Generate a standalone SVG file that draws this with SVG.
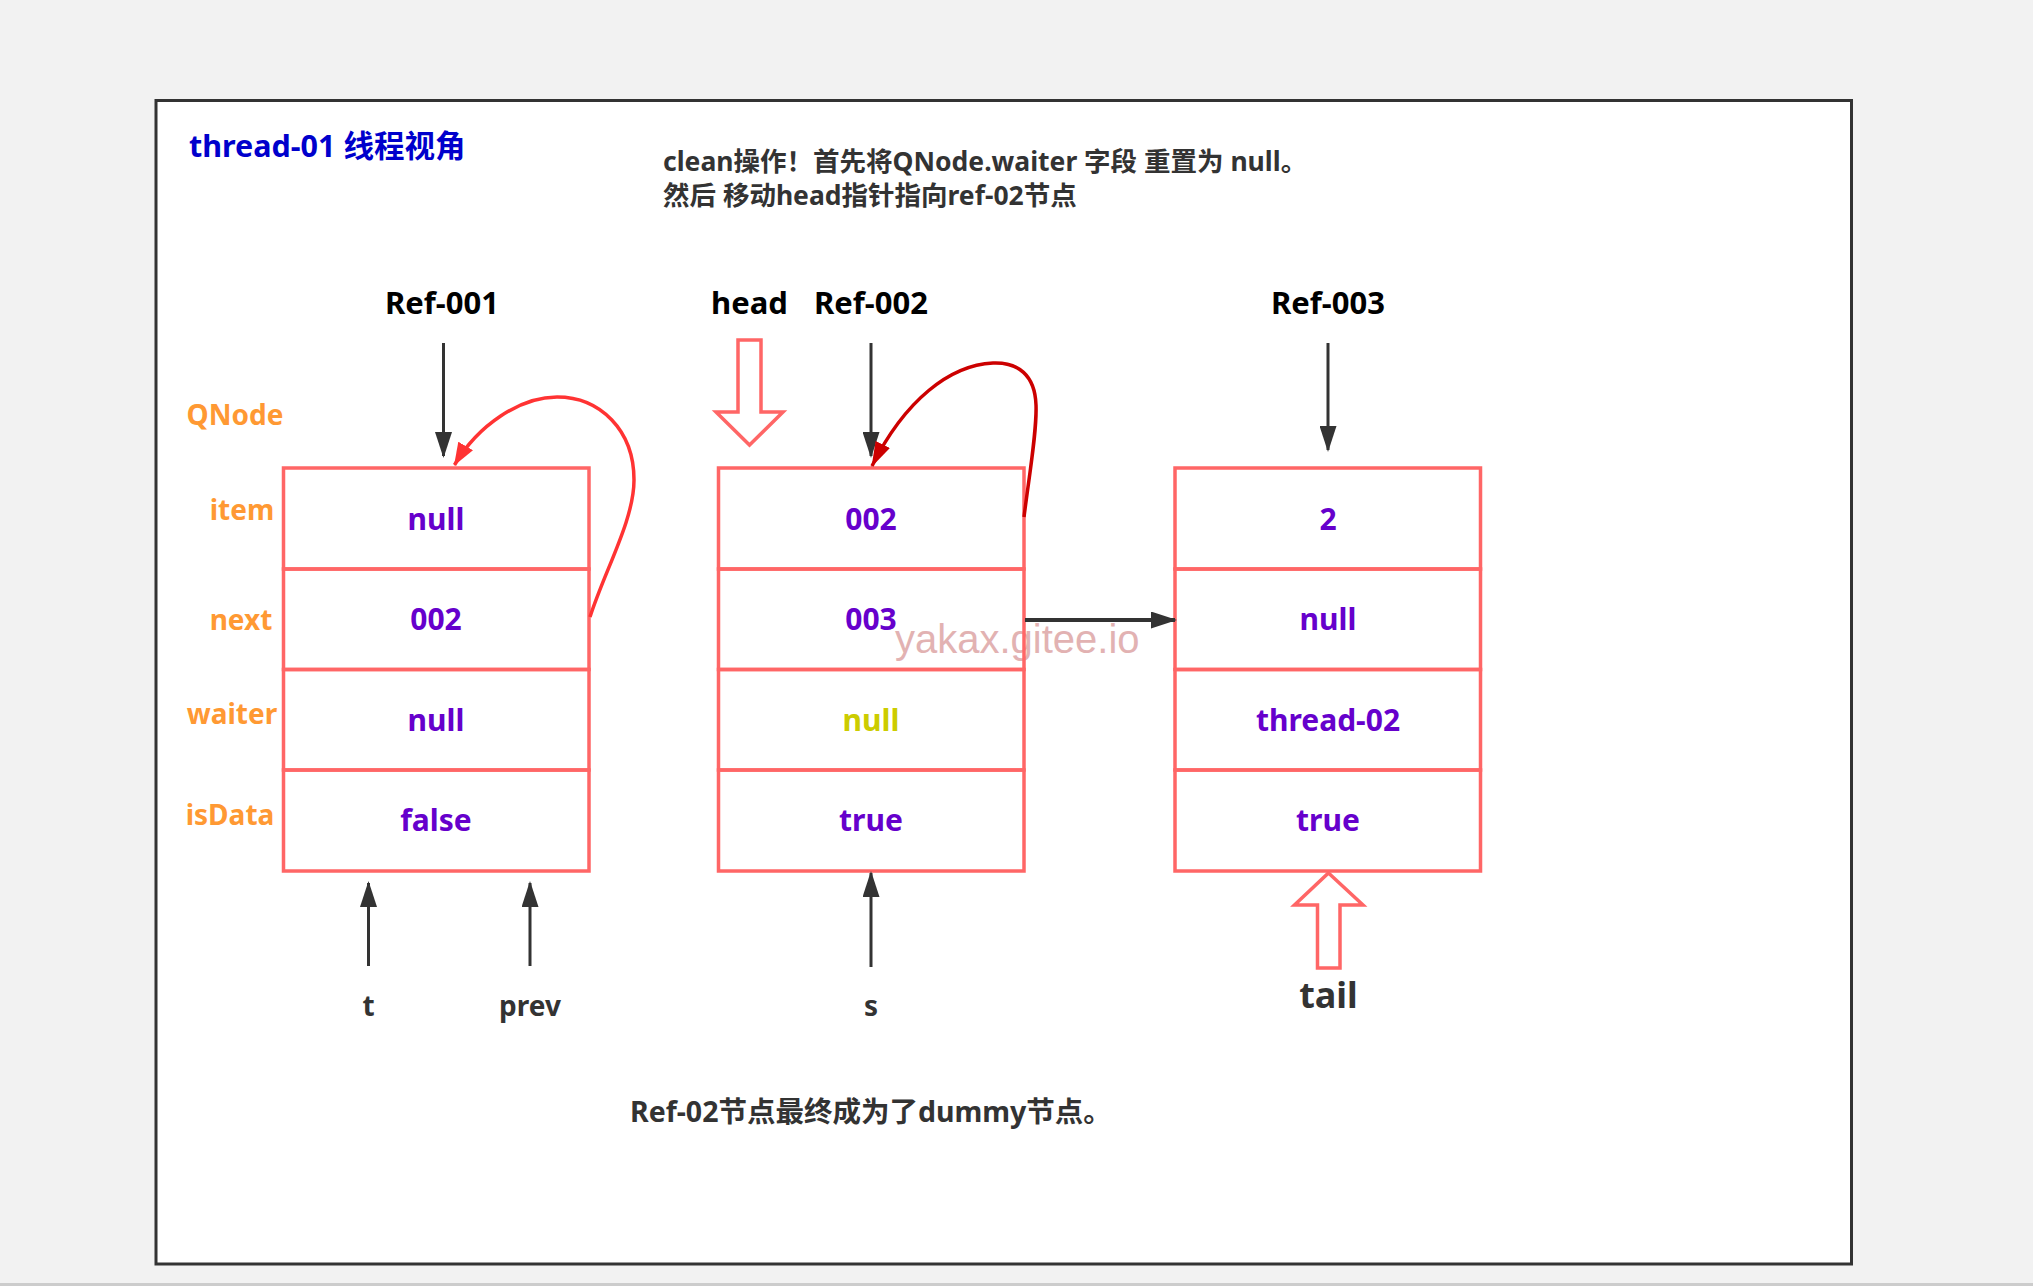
<svg xmlns="http://www.w3.org/2000/svg" width="2033" height="1286" viewBox="0 0 2033 1286">
<style>
.t{font-family:"Noto Sans","Noto Sans CJK SC",sans-serif;font-weight:bold}
.cell{fill:none;stroke:#ff6666;stroke-width:3.5}
.val{font-size:30px;fill:#6600cc;text-anchor:middle}
.lbl{font-size:28px;fill:#ff9933;text-anchor:middle}
.ref{font-size:31px;fill:#000000;text-anchor:middle}
.ptr{font-size:28px;fill:#333333;text-anchor:middle}
.note{font-size:26.5px;fill:#333333}
.dark{fill:none;stroke:#333333;stroke-width:3}
.hollow{fill:#ffffff;stroke:#ff6666;stroke-width:3.5;stroke-linejoin:miter}
</style>
<defs>
<marker id="ahDark" markerUnits="userSpaceOnUse" markerWidth="26" markerHeight="17" viewBox="0 0 26 17" refX="24" refY="8.5" orient="auto">
<path d="M0,0 L26,8.5 L0,17 Z" fill="#333333"/>
</marker>
<marker id="ahRed" markerUnits="userSpaceOnUse" markerWidth="23" markerHeight="17" viewBox="0 0 23 17" refX="22" refY="8.5" orient="auto">
<path d="M0,0 L23,8.5 L0,17 Z" fill="#ff3333"/>
</marker>
<marker id="ahDeepRed" markerUnits="userSpaceOnUse" markerWidth="25" markerHeight="16" viewBox="0 0 25 16" refX="24" refY="8" orient="auto">
<path d="M0,0 L25,8 L0,16 Z" fill="#cc0000"/>
</marker>
</defs>
<rect x="0" y="0" width="2033" height="1286" fill="#f2f2f2"/>
<rect x="0" y="1283" width="2033" height="3" fill="#cccccc"/>
<rect id="frame" x="156" y="100.5" width="1695.5" height="1163.5" fill="#ffffff" stroke="#333333" stroke-width="3"/>

<g id="title">
<text class="t" x="189" y="157" font-size="30.5" fill="#0000cc">thread-01 线程视角</text>
</g>
<g id="note-top">
<text class="t note" x="663" y="171">clean操作！首先将QNode.waiter 字段 重置为 null。</text>
<text class="t note" x="663" y="205">然后 移动head指针指向ref-02节点</text>
</g>
<g id="note-bottom">
<text class="t" x="630" y="1122" font-size="28.5" fill="#333333">Ref-02节点最终成为了dummy节点。</text>
</g>

<g id="field-labels">
<text class="t lbl" x="235" y="425">QNode</text>
<text class="t lbl" x="242" y="520">item</text>
<text class="t lbl" x="241" y="630">next</text>
<text class="t lbl" x="232" y="724">waiter</text>
<text class="t lbl" x="230" y="825">isData</text>
</g>

<g id="ref-labels">
<text class="t ref" x="442" y="314">Ref-001</text>
<text class="t ref" x="749.5" y="314">head</text>
<text class="t ref" x="871" y="314">Ref-002</text>
<text class="t ref" x="1328" y="314">Ref-003</text>
</g>

<g id="watermark">
<text x="895" y="653" font-family="'Liberation Sans',Arial,sans-serif" font-size="40" fill="#e2b2b2">yakax.gitee.io</text>
</g>

<g id="node-ref-001">
<rect class="cell" x="283.5" y="468" width="305.5" height="101"/>
<rect class="cell" x="283.5" y="569" width="305.5" height="100.5"/>
<rect class="cell" x="283.5" y="669.5" width="305.5" height="100.5"/>
<rect class="cell" x="283.5" y="770" width="305.5" height="101"/>
<text class="t val" x="436" y="530">null</text>
<text class="t val" x="436" y="630">002</text>
<text class="t val" x="436" y="731">null</text>
<text class="t val" x="436" y="831">false</text>
</g>

<g id="node-ref-002">
<rect class="cell" x="718.5" y="468" width="305.5" height="101"/>
<rect class="cell" x="718.5" y="569" width="305.5" height="100.5"/>
<rect class="cell" x="718.5" y="669.5" width="305.5" height="100.5"/>
<rect class="cell" x="718.5" y="770" width="305.5" height="101"/>
<text class="t val" x="871" y="530">002</text>
<text class="t val" x="871" y="630">003</text>
<text class="t val" x="871" y="731" style="fill:#cccc00">null</text>
<text class="t val" x="871" y="831">true</text>
</g>

<g id="node-ref-003">
<rect class="cell" x="1175" y="468" width="305.5" height="101"/>
<rect class="cell" x="1175" y="569" width="305.5" height="100.5"/>
<rect class="cell" x="1175" y="669.5" width="305.5" height="100.5"/>
<rect class="cell" x="1175" y="770" width="305.5" height="101"/>
<text class="t val" x="1328" y="530">2</text>
<text class="t val" x="1328" y="630">null</text>
<text class="t val" x="1328" y="731">thread-02</text>
<text class="t val" x="1328" y="831">true</text>
</g>

<g id="pointer-labels">
<text class="t ptr" x="368.5" y="1016">t</text>
<text class="t ptr" x="530" y="1016">prev</text>
<text class="t ptr" x="871" y="1016">s</text>
<text class="t ptr" x="1328.5" y="1008" style="font-size:36px">tail</text>
</g>

<g id="connectors">
<path class="dark" d="M443.5,343 L443.5,456" marker-end="url(#ahDark)"/>
<path class="dark" d="M871,343 L871,456" marker-end="url(#ahDark)"/>
<path class="dark" d="M1328,343 L1328,450" marker-end="url(#ahDark)"/>
<path class="dark" d="M368.5,966 L368.5,883" marker-end="url(#ahDark)"/>
<path class="dark" d="M530,966 L530,883" marker-end="url(#ahDark)"/>
<path class="dark" d="M871,967 L871,873" marker-end="url(#ahDark)"/>
<path class="dark" style="stroke-width:4" d="M1025,620 L1175,620" marker-end="url(#ahDark)"/>
<path d="M590,617 C605,570 634,520 634,480 C634,430 600,397 557,397 C520,397 478,425 454.5,465" fill="none" stroke="#ff3333" stroke-width="3.5" marker-end="url(#ahRed)"/>
<path d="M1024,517 C1030,470 1037,430 1036,405 C1035,375 1018,362 993,363 C950,365 905,400 872,466" fill="none" stroke="#cc0000" stroke-width="3.5" marker-end="url(#ahDeepRed)"/>
<polygon id="head-arrow" class="hollow" points="738,340 761,340 761,412 783,412 749.5,445 716,412 738,412"/>
<polygon id="tail-arrow" class="hollow" points="1328.5,873 1363,905 1340,905 1340,968 1317.5,968 1317.5,905 1294.5,905"/>
</g>
</svg>
